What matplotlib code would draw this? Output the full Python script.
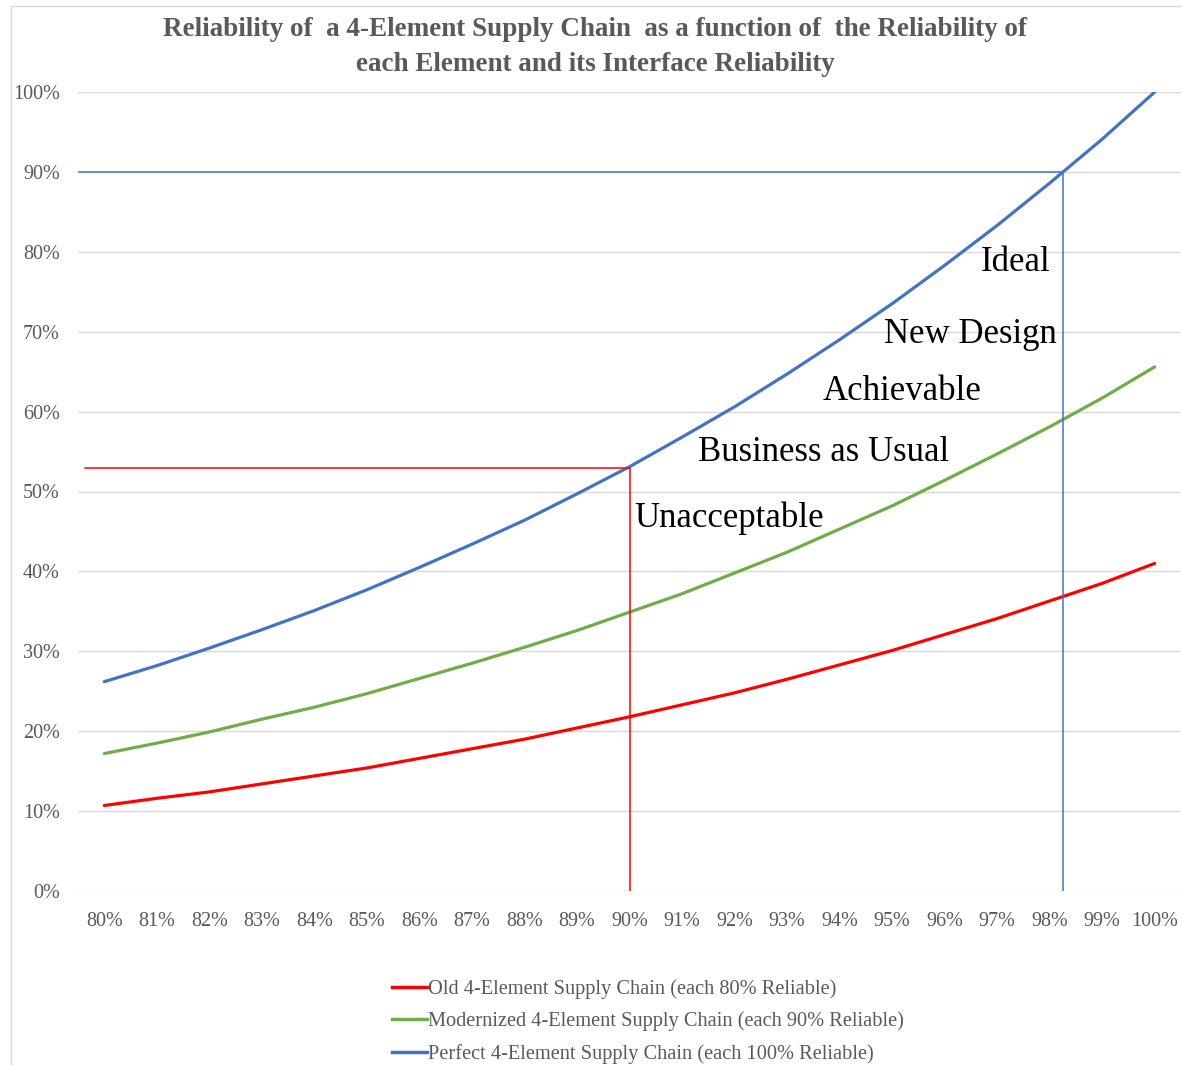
import numpy as np
import matplotlib.pyplot as plt
import matplotlib.lines as mlines

# --- Data: chain reliability vs. element/interface reliability ---
element_rel = ['80%', '81%', '82%', '83%', '84%', '85%', '86%', '87%', '88%', '89%', '90%',
               '91%', '92%', '93%', '94%', '95%', '96%', '97%', '98%', '99%', '100%']

old_chain = [0.107, 0.116, 0.124, 0.134, 0.144, 0.154, 0.166, 0.178, 0.190, 0.204, 0.218,
             0.233, 0.248, 0.265, 0.283, 0.301, 0.321, 0.341, 0.363, 0.385, 0.410]
modern_chain = [0.172, 0.185, 0.199, 0.215, 0.230, 0.247, 0.266, 0.285, 0.305, 0.326, 0.349,
                0.372, 0.398, 0.424, 0.453, 0.482, 0.514, 0.547, 0.581, 0.617, 0.656]
perfect_chain = [0.262, 0.282, 0.304, 0.327, 0.351, 0.377, 0.405, 0.434, 0.464, 0.497, 0.531,
                 0.568, 0.606, 0.647, 0.690, 0.735, 0.783, 0.833, 0.886, 0.941, 1.000]

series_names = ['Old 4-Element Supply Chain (each 80% Reliable)',
                'Modernized 4-Element Supply Chain (each 90% Reliable)',
                'Perfect 4-Element Supply Chain (each 100% Reliable)']

# reference markers: (category index, chain reliability)
current_pt = (10, 0.53)      # 90% elements -> 53%
target_pt = (18.26, 0.90)    # ~98.3% elements -> 90%

zones = ['Ideal', 'New Design', 'Achievable', 'Business as Usual', 'Unacceptable']
zone_pos = [(16.69, 0.786), (14.84, 0.697), (13.68, 0.625), (11.30, 0.549), (10.09, 0.466)]

RED = '#FF0000'
GREEN = '#70AD47'
BLUE = '#4472C4'
GRAY = '#595959'
SERIF = ['Liberation Serif', 'DejaVu Serif']

plt.rcParams['font.family'] = SERIF

fig = plt.figure(figsize=(11.82, 10.65), dpi=100)
ax = fig.add_axes([78 / 1182, 1 - 891 / 1065, 1103 / 1182, 799 / 1065])

x = np.arange(len(element_rel))
ax.plot(x, old_chain, color=RED, lw=2.3, solid_capstyle='round')
ax.plot(x, modern_chain, color=GREEN, lw=2.3, solid_capstyle='round')
ax.plot(x, perfect_chain, color=BLUE, lw=2.3, solid_capstyle='round')

# guide lines at today's design point and at the 90% goal
ax.plot([-0.36, current_pt[0], current_pt[0]], [current_pt[1], current_pt[1], 0],
        color=RED, lw=1.1)
ax.plot([-0.5, target_pt[0], target_pt[0]], [target_pt[1], target_pt[1], 0],
        color=BLUE, lw=1.1)

for label, (zx, zy) in zip(zones, zone_pos):
    ax.text(zx, zy, label, fontsize=25, color='black', ha='left', va='center',
            family=SERIF)

ax.set_xlim(-0.5, len(element_rel) - 0.5)
ax.set_ylim(0, 1)
ax.set_xticks(x)
ax.set_xticklabels(element_rel)
ax.set_yticks(np.arange(0, 1.01, 0.1))
ax.set_yticklabels([f'{int(round(v * 100))}%' for v in np.arange(0, 1.01, 0.1)])
ax.tick_params(axis='both', length=0, labelsize=14.5, colors=GRAY)
ax.tick_params(axis='y', pad=13)
ax.tick_params(axis='x', pad=15)
ax.grid(axis='y', color='#D9D9D9', lw=1)
ax.set_axisbelow(True)
for s in ax.spines.values():
    s.set_visible(False)

fig.text(595 / 1182, 1 - 47 / 1065,
         'Reliability of  a 4-Element Supply Chain  as a function of  the Reliability of\n'
         'each Element and its Interface Reliability',
         ha='center', va='center', fontsize=19.5, color=GRAY, fontweight='bold',
         linespacing=1.55)

handles = [mlines.Line2D([], [], color=c, lw=2.5) for c in (RED, GREEN, BLUE)]
fig.legend(handles, series_names, loc='upper left',
           bbox_to_anchor=(392 / 1182, 1 - 979 / 1065), frameon=False,
           fontsize=14.7, labelcolor=GRAY, handlelength=1.7, handletextpad=0.05,
           borderpad=0, borderaxespad=0, labelspacing=0.62)

# chart border remnants along the top and left edges
fig.add_artist(mlines.Line2D([11 / 1182, 1], [1 - 6 / 1065, 1 - 6 / 1065],
                             color='#D9D9D9', lw=1, transform=fig.transFigure))
fig.add_artist(mlines.Line2D([11 / 1182, 11 / 1182], [0, 1 - 6 / 1065],
                             color='#D9D9D9', lw=1, transform=fig.transFigure))

fig.savefig('out.png', dpi=100)
